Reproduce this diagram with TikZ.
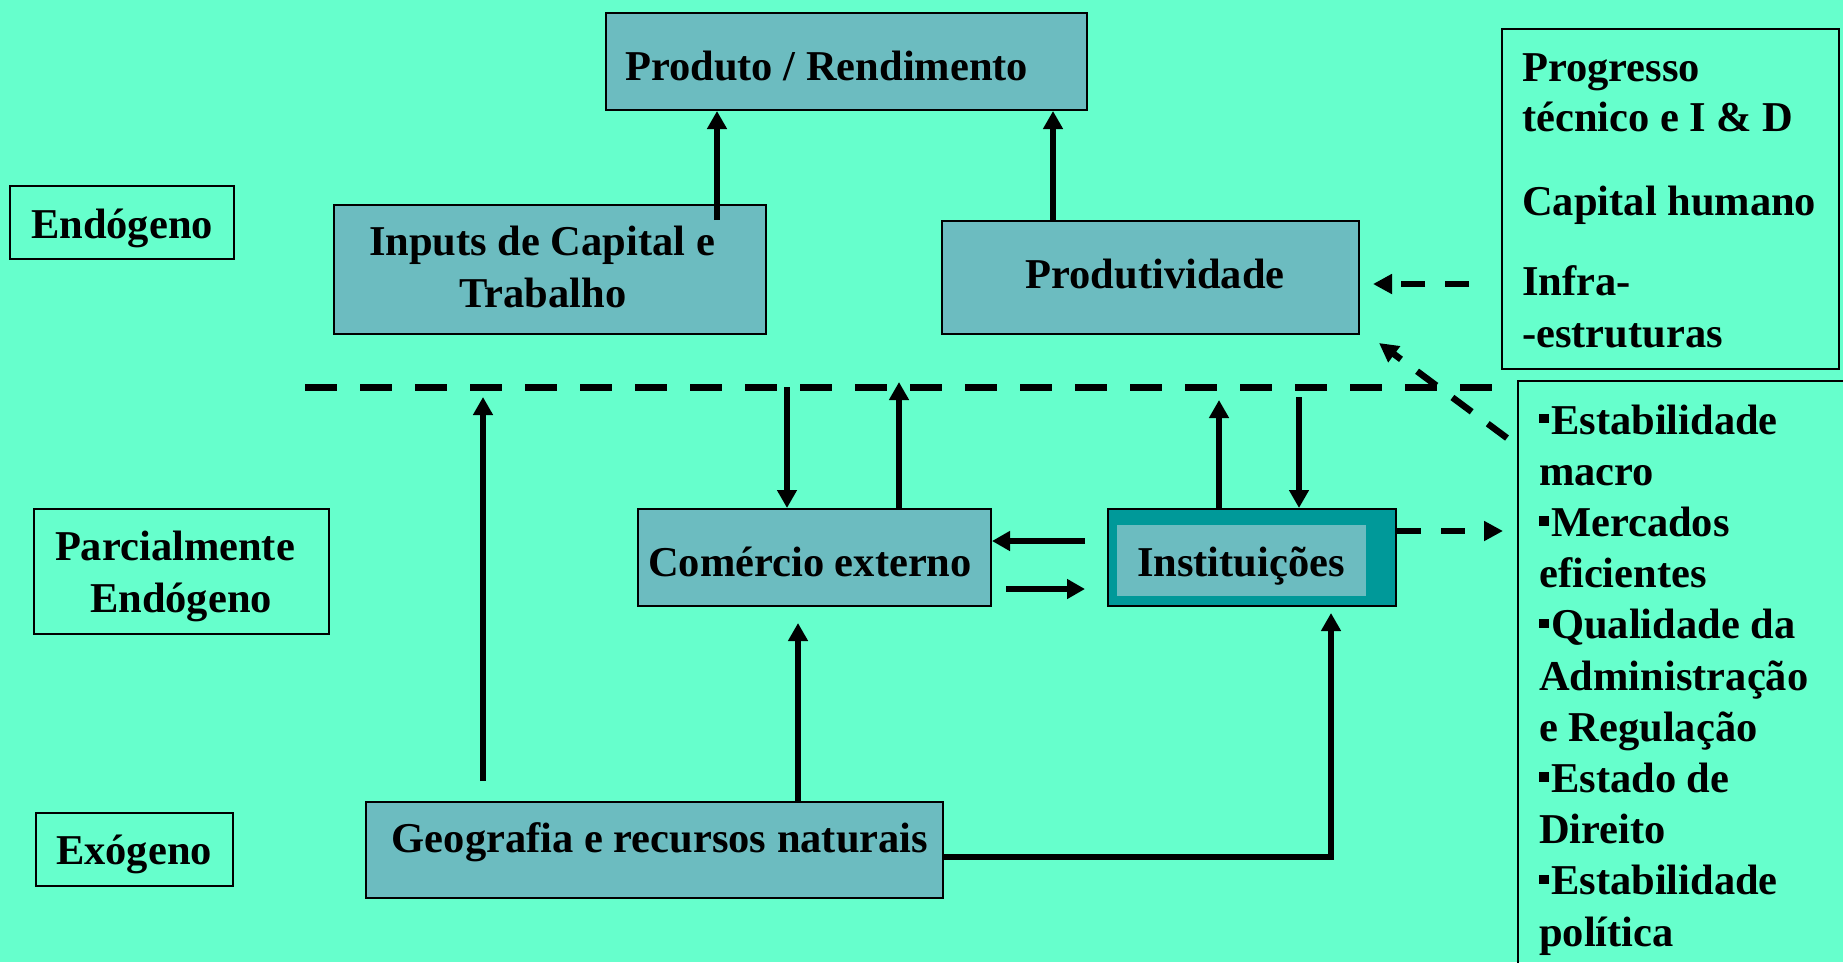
\documentclass[tikz,border=0pt]{standalone}
\usepackage{fontspec}
\setmainfont{Liberation Serif}
\usetikzlibrary{arrows.meta,calc}
\definecolor{bg}{RGB}{102,255,204}
\definecolor{boxfill}{RGB}{108,188,192}
\definecolor{tealdark}{RGB}{0,153,153}
\newcommand\mybullet{\raisebox{0.25em}{\rule{0.22em}{0.22em}}\hspace{0.06em}}
\begin{document}
\begin{tikzpicture}[x=1pt,y=-1pt,
  box/.style={draw=black, line width=2pt, fill=boxfill, inner sep=0pt, anchor=north west},
  obox/.style={draw=black, line width=2pt, inner sep=0pt, anchor=north west},
  txt/.style={font=\fontsize{42.5}{51}\selectfont\bfseries, inner sep=0pt},
  arr/.style={line width=6pt, -{Triangle[length=18pt,width=19pt]}},
  darr/.style={line width=6.5pt, dash pattern=on 24pt off 20pt, -{Triangle[length=19pt,width=19pt]}},
]
\useasboundingbox (0,0) rectangle (1843,962);
\fill[bg] (0,0) rectangle (1843,962);
\clip (0,0) rectangle (1843,962);

% boxes
\node[box, minimum width=481pt, minimum height=97pt] (prod) at (605,12) {};
\node[box, minimum width=432pt, minimum height=129pt] (inp) at (333,204) {};
\node[box, minimum width=417pt, minimum height=113pt] (pdv) at (941,220) {};
\node[obox, minimum width=224pt, minimum height=73pt] (endo) at (9,185) {};
\node[obox, minimum width=295pt, minimum height=125pt] (parc) at (33,508) {};
\node[box, minimum width=353pt, minimum height=97pt] (com) at (637,508) {};
\node[box, fill=tealdark, minimum width=288pt, minimum height=97pt] (inst) at (1107,508) {};
\node[fill=boxfill, inner sep=0pt, anchor=north west, minimum width=249pt, minimum height=71pt] (insti) at (1117,525) {};
\node[obox, minimum width=197pt, minimum height=73pt] (exo) at (35,812) {};
\node[box, minimum width=577pt, minimum height=96pt] (geo) at (365,801) {};
\node[obox, minimum width=337pt, minimum height=340pt] (rtop) at (1501,28) {};
\node[obox, minimum width=360pt, minimum height=620pt] (rbot) at (1517,380) {};

% texts
\node[txt, anchor=base west] (tprod) at (625,80) {Produto / Rendimento};
\node[txt, anchor=base] (tinp1) at (542,255) {Inputs de Capital e};
\node[txt, anchor=base] (tinp2) at (543,307) {Trabalho};
\node[txt, anchor=base] (tpdv) at (1155,288) {Produtividade};
\node[txt, anchor=base] (tendo) at (122,238) {Endógeno};
\node[txt, anchor=base] (tparc1) at (175,560) {Parcialmente};
\node[txt, anchor=base] (tparc2) at (181,612) {Endógeno};
\node[txt, anchor=base] (tcom) at (810,576) {Comércio externo};
\node[txt, anchor=base] (tinst) at (1241,576) {Instituições};
\node[txt, anchor=base] (texo) at (134,864) {Exógeno};
\node[txt, anchor=base] (tgeo) at (660,852) {Geografia e recursos naturais};

\node[txt, anchor=base west] (r1) at (1522,81) {Progresso};
\node[txt, anchor=base west] (r2) at (1522,131) {técnico e I \& D};
\node[txt, anchor=base west] (r3) at (1522,215) {Capital humano};
\node[txt, anchor=base west] (r4) at (1522,295) {Infra-};
\node[txt, anchor=base west] (r5) at (1522,347) {-estruturas};

\node[txt, anchor=base west] (b1) at (1539,434.0) {\mybullet Estabilidade};
\node[txt, anchor=base west] (b2) at (1539,485.2) {macro};
\node[txt, anchor=base west] (b3) at (1539,536.4) {\mybullet Mercados};
\node[txt, anchor=base west] (b4) at (1539,587.6) {eficientes};
\node[txt, anchor=base west] (b5) at (1539,638.8) {\mybullet Qualidade da};
\node[txt, anchor=base west] (b6) at (1539,690.0) {Administração};
\node[txt, anchor=base west] (b7) at (1539,741.2) {e Regulação};
\node[txt, anchor=base west] (b8) at (1539,792.4) {\mybullet Estado de};
\node[txt, anchor=base west] (b9) at (1539,843.6) {Direito};
\node[txt, anchor=base west] (b10) at (1539,894.8) {\mybullet Estabilidade};
\node[txt, anchor=base west] (b11) at (1539,946.0) {política};

% dashed separator
\coordinate (dl) at (305,387);
\coordinate (dr) at (1513,387);
\draw[line width=7pt, dash pattern=on 32pt off 23pt] (dl) -- (dr);

% solid arrows
\draw[arr] (717,220) -- (717,0 |- prod.south);
\draw[arr] (1053,0 |- pdv.north) -- (1053,0 |- prod.south);
\draw[arr] (787,387) -- (787,0 |- com.north);
\draw[arr] (899,0 |- com.north) -- (899,382);
\draw[arr] (1219,0 |- inst.north) -- (1219,400);
\draw[arr] (1299,397) -- (1299,0 |- inst.north);
\draw[arr] (1085,541) -- (com.east |- 0,541);
\draw[arr] (1006,589) -- (1085,589);
\draw[arr] (483,781) -- (483,397);
\draw[arr] (798,0 |- geo.north) -- (798,623);
\draw[arr] (geo.east |- 0,857) -- (1331,857) -- (1331,613);

% dashed arrows
\draw[darr] (1469,284) -- (1373,284);
\draw[darr] (1507,438) -- (1379,343);
\draw[darr] (inst.east |- 0,531) -- (1503,531);
\end{tikzpicture}
\end{document}
